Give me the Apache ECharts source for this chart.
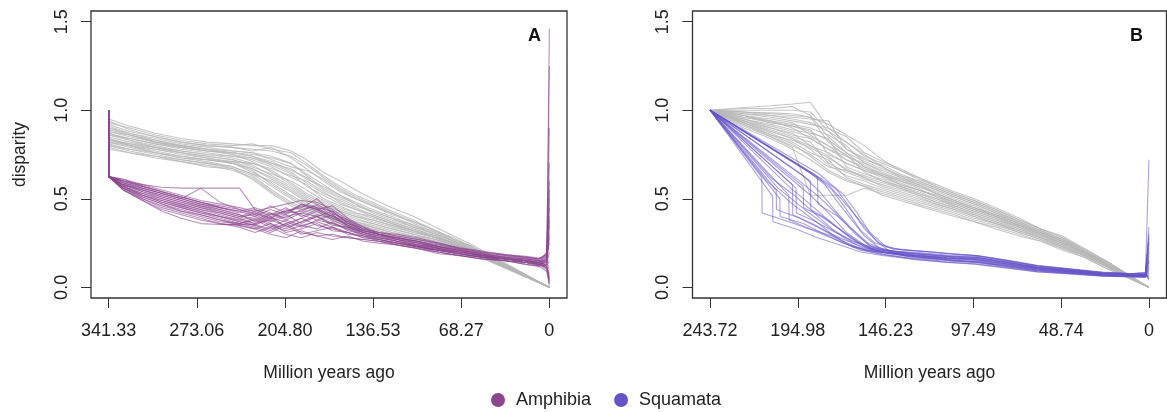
<!DOCTYPE html>
<html>
<head>
<meta charset="utf-8">
<script src="https://cdn.jsdelivr.net/npm/echarts@6/dist/echarts.min.js"></script>
<style>
html,body{margin:0;padding:0;background:#fff;}
#chart{width:1167px;height:412px;}
</style>
</head>
<body>
<div id="chart"></div>
<script>
// ---------- tick labels ----------
const xTicksA = [341.33, 273.06, 204.80, 136.53, 68.27, 0];
const xLabelsA = ['341.33', '273.06', '204.80', '136.53', '68.27', '0'];
const xTicksB = [243.72, 194.98, 146.23, 97.49, 48.74, 0];
const xLabelsB = ['243.72', '194.98', '146.23', '97.49', '48.74', '0'];
const yTicks = [0, 0.5, 1.0, 1.5];
const yLabels = ['0.0', '0.5', '1.0', '1.5'];
const legendNames = ['Amphibia', 'Squamata'];

// ---------- Panel A : gray (null) disparity-through-time curves ----------
const grayATimes = [341.33, 325, 305, 285, 265, 245, 230, 215, 200, 188, 175, 162, 150, 137, 122, 105, 88, 74, 60, 0];
const grayA = [
  [0.95,0.91,0.87,0.84,0.82,0.81,0.80,0.80,0.77,0.72,0.65,0.60,0.55,0.50,0.45,0.40,0.34,0.29,0.24,0],
  [0.93,0.90,0.86,0.83,0.81,0.80,0.81,0.78,0.76,0.70,0.63,0.57,0.52,0.48,0.43,0.38,0.32,0.28,0.23,0],
  [0.92,0.88,0.85,0.82,0.80,0.79,0.77,0.79,0.73,0.67,0.60,0.54,0.50,0.46,0.42,0.36,0.31,0.27,0.23,0],
  [0.90,0.87,0.84,0.81,0.79,0.77,0.76,0.74,0.70,0.64,0.58,0.52,0.48,0.44,0.40,0.35,0.31,0.26,0.22,0],
  [0.89,0.86,0.82,0.80,0.78,0.76,0.74,0.71,0.66,0.62,0.55,0.50,0.46,0.43,0.39,0.34,0.30,0.26,0.22,0],
  [0.88,0.85,0.82,0.79,0.77,0.75,0.73,0.69,0.64,0.57,0.52,0.47,0.44,0.41,0.37,0.33,0.29,0.25,0.22,0],
  [0.87,0.84,0.81,0.78,0.76,0.74,0.72,0.68,0.62,0.58,0.50,0.46,0.42,0.40,0.36,0.32,0.29,0.25,0.21,0],
  [0.86,0.83,0.80,0.77,0.75,0.73,0.70,0.66,0.59,0.53,0.48,0.44,0.41,0.38,0.35,0.32,0.28,0.25,0.21,0],
  [0.85,0.82,0.79,0.76,0.74,0.72,0.69,0.63,0.57,0.51,0.46,0.43,0.40,0.37,0.34,0.31,0.28,0.24,0.21,0],
  [0.84,0.81,0.78,0.75,0.73,0.71,0.67,0.61,0.55,0.49,0.45,0.41,0.38,0.36,0.33,0.30,0.27,0.24,0.21,0],
  [0.83,0.80,0.77,0.74,0.72,0.70,0.65,0.59,0.52,0.47,0.43,0.40,0.37,0.35,0.32,0.29,0.27,0.24,0.20,0],
  [0.82,0.79,0.76,0.73,0.71,0.68,0.64,0.57,0.50,0.45,0.41,0.38,0.36,0.34,0.31,0.29,0.26,0.23,0.20,0],
  [0.81,0.78,0.75,0.72,0.70,0.67,0.63,0.55,0.48,0.44,0.40,0.37,0.35,0.33,0.30,0.28,0.26,0.23,0.20,0],
  [0.80,0.77,0.74,0.71,0.69,0.66,0.62,0.54,0.47,0.43,0.39,0.36,0.33,0.31,0.29,0.27,0.25,0.22,0.19,0],
  [0.79,0.76,0.73,0.71,0.68,0.67,0.61,0.53,0.46,0.42,0.38,0.35,0.32,0.30,0.28,0.26,0.24,0.22,0.19,0],
  [0.78,0.76,0.74,0.72,0.70,0.68,0.64,0.60,0.54,0.48,0.42,0.39,0.36,0.33,0.30,0.28,0.25,0.22,0.20,0],
  [0.84,0.80,0.76,0.73,0.72,0.71,0.70,0.67,0.63,0.60,0.54,0.48,0.44,0.40,0.36,0.32,0.28,0.25,0.21,0],
  [0.91,0.87,0.83,0.80,0.78,0.77,0.76,0.72,0.68,0.66,0.61,0.55,0.50,0.46,0.41,0.37,0.32,0.27,0.23,0],
  [0.86,0.84,0.81,0.79,0.77,0.76,0.75,0.73,0.70,0.63,0.56,0.51,0.47,0.43,0.39,0.35,0.30,0.26,0.22,0],
  [0.83,0.81,0.79,0.77,0.75,0.74,0.73,0.70,0.65,0.59,0.53,0.49,0.45,0.41,0.37,0.33,0.29,0.25,0.21,0],
  [0.87,0.83,0.79,0.76,0.74,0.72,0.68,0.64,0.60,0.55,0.49,0.45,0.42,0.39,0.36,0.32,0.28,0.25,0.21,0],
  [0.80,0.78,0.76,0.74,0.72,0.70,0.67,0.62,0.56,0.50,0.45,0.42,0.39,0.36,0.33,0.30,0.27,0.24,0.20,0],
  [0.94,0.89,0.85,0.82,0.80,0.79,0.78,0.77,0.74,0.69,0.62,0.56,0.51,0.47,0.42,0.37,0.32,0.27,0.23,0],
  [0.88,0.86,0.83,0.80,0.78,0.75,0.71,0.65,0.58,0.52,0.47,0.43,0.40,0.38,0.35,0.31,0.28,0.24,0.21,0],
  [0.82,0.80,0.78,0.76,0.73,0.70,0.66,0.58,0.51,0.46,0.42,0.39,0.37,0.34,0.31,0.28,0.26,0.23,0.20,0],
  [0.90,0.86,0.82,0.79,0.77,0.76,0.74,0.70,0.67,0.61,0.57,0.52,0.47,0.42,0.38,0.34,0.30,0.26,0.22,0]
];

// ---------- Panel A : Amphibia curves ----------
const amphTimes = [341.33, 341.32, 330, 315, 300, 285, 270, 255, 240, 228, 216, 204, 192, 180, 168, 156, 144, 132, 118, 102, 86, 70, 52, 34, 18, 8, 2, 0];
const amphibia = [
  [1.0,0.625,0.60,0.58,0.565,0.56,0.56,0.56,0.56,0.44,0.41,0.43,0.46,0.44,0.40,0.35,0.32,0.30,0.28,0.26,0.23,0.21,0.19,0.17,0.16,0.15,0.14,1.46],
  [1.0,0.625,0.55,0.49,0.43,0.39,0.36,0.355,0.355,0.355,0.33,0.36,0.31,0.29,0.30,0.28,0.27,0.26,0.25,0.23,0.21,0.20,0.18,0.16,0.15,0.13,0.11,0.03],
  [1.0,0.625,0.61,0.58,0.55,0.52,0.49,0.47,0.45,0.43,0.45,0.47,0.49,0.48,0.44,0.38,0.33,0.31,0.30,0.28,0.25,0.22,0.20,0.185,0.17,0.16,0.17,1.25],
  [1.0,0.625,0.60,0.57,0.54,0.51,0.48,0.45,0.42,0.44,0.40,0.43,0.45,0.50,0.42,0.37,0.32,0.30,0.28,0.26,0.23,0.21,0.19,0.17,0.16,0.15,0.14,0.60],
  [1.0,0.625,0.59,0.56,0.53,0.50,0.47,0.44,0.41,0.38,0.42,0.39,0.44,0.46,0.41,0.35,0.31,0.29,0.28,0.25,0.23,0.20,0.18,0.17,0.15,0.14,0.13,0.35],
  [1.0,0.625,0.59,0.55,0.52,0.49,0.46,0.43,0.40,0.41,0.37,0.40,0.42,0.40,0.43,0.36,0.32,0.30,0.27,0.25,0.22,0.20,0.18,0.16,0.15,0.14,0.18,0.25],
  [1.0,0.625,0.58,0.54,0.51,0.48,0.45,0.42,0.39,0.36,0.38,0.35,0.39,0.43,0.38,0.34,0.30,0.28,0.27,0.24,0.22,0.20,0.18,0.16,0.15,0.13,0.12,0.05],
  [1.0,0.625,0.58,0.54,0.50,0.47,0.44,0.41,0.38,0.40,0.36,0.33,0.37,0.41,0.39,0.35,0.31,0.29,0.26,0.24,0.21,0.19,0.17,0.16,0.15,0.14,0.20,0.40],
  [1.0,0.625,0.57,0.53,0.49,0.46,0.43,0.40,0.37,0.35,0.39,0.37,0.34,0.38,0.36,0.33,0.29,0.28,0.26,0.23,0.21,0.19,0.17,0.16,0.14,0.13,0.10,0.02],
  [1.0,0.625,0.57,0.52,0.48,0.45,0.42,0.39,0.36,0.38,0.34,0.38,0.35,0.33,0.37,0.32,0.30,0.27,0.25,0.23,0.21,0.19,0.17,0.15,0.14,0.13,0.15,0.30],
  [1.0,0.625,0.56,0.51,0.47,0.44,0.41,0.38,0.35,0.33,0.36,0.31,0.33,0.36,0.32,0.31,0.28,0.27,0.25,0.23,0.20,0.18,0.17,0.15,0.14,0.13,0.11,0.08],
  [1.0,0.625,0.56,0.50,0.46,0.43,0.40,0.37,0.36,0.34,0.31,0.35,0.30,0.32,0.34,0.30,0.29,0.26,0.24,0.22,0.20,0.18,0.16,0.15,0.14,0.12,0.16,0.45],
  [1.0,0.625,0.55,0.50,0.45,0.42,0.39,0.36,0.34,0.31,0.34,0.30,0.28,0.31,0.29,0.28,0.27,0.26,0.24,0.22,0.20,0.18,0.16,0.15,0.13,0.12,0.09,0.01],
  [1.0,0.625,0.55,0.49,0.44,0.41,0.38,0.36,0.35,0.33,0.30,0.28,0.32,0.29,0.27,0.29,0.26,0.25,0.24,0.22,0.19,0.18,0.16,0.15,0.13,0.12,0.13,0.20],
  [1.0,0.625,0.60,0.56,0.53,0.50,0.56,0.48,0.44,0.42,0.39,0.42,0.47,0.45,0.40,0.37,0.33,0.31,0.29,0.27,0.245,0.22,0.20,0.18,0.17,0.16,0.19,0.90],
  [1.0,0.625,0.58,0.55,0.52,0.49,0.46,0.44,0.41,0.37,0.41,0.45,0.40,0.44,0.46,0.39,0.34,0.30,0.27,0.25,0.22,0.20,0.18,0.16,0.15,0.14,0.12,0.15],
  [1.0,0.625,0.57,0.53,0.50,0.47,0.44,0.42,0.39,0.42,0.38,0.41,0.36,0.40,0.35,0.34,0.31,0.28,0.26,0.24,0.22,0.19,0.17,0.16,0.15,0.13,0.17,0.55],
  [1.0,0.625,0.56,0.52,0.49,0.46,0.43,0.40,0.37,0.35,0.32,0.36,0.39,0.35,0.33,0.31,0.28,0.27,0.25,0.23,0.21,0.19,0.17,0.16,0.14,0.13,0.14,0.10],
  [1.0,0.625,0.59,0.56,0.53,0.50,0.47,0.45,0.43,0.40,0.44,0.41,0.47,0.44,0.39,0.36,0.33,0.30,0.28,0.26,0.24,0.215,0.195,0.18,0.17,0.16,0.19,0.70],
  [1.0,0.625,0.58,0.55,0.51,0.48,0.45,0.43,0.40,0.43,0.39,0.44,0.41,0.38,0.41,0.34,0.31,0.29,0.27,0.25,0.23,0.205,0.185,0.17,0.16,0.15,0.12,0.06],
  [1.0,0.625,0.57,0.52,0.48,0.45,0.42,0.40,0.38,0.36,0.40,0.34,0.37,0.40,0.36,0.33,0.30,0.28,0.26,0.24,0.22,0.20,0.18,0.165,0.155,0.145,0.16,0.28],
  [1.0,0.625,0.61,0.57,0.54,0.51,0.48,0.46,0.44,0.41,0.46,0.42,0.43,0.47,0.42,0.38,0.34,0.31,0.29,0.27,0.25,0.225,0.205,0.185,0.175,0.165,0.18,0.50],
  [1.0,0.625,0.56,0.51,0.47,0.43,0.41,0.38,0.36,0.39,0.35,0.32,0.35,0.37,0.34,0.31,0.29,0.27,0.25,0.23,0.21,0.19,0.175,0.16,0.15,0.14,0.11,0.04],
  [1.0,0.625,0.60,0.57,0.54,0.51,0.48,0.45,0.43,0.45,0.42,0.38,0.42,0.45,0.43,0.36,0.32,0.30,0.28,0.26,0.23,0.21,0.19,0.175,0.165,0.155,0.15,0.38]
];

// ---------- Panel B : gray (null) curves ----------
const grayBTimes = [243.72, 225, 210, 198, 188, 178, 168, 158, 148, 138, 128, 118, 108, 97, 85, 72, 60, 48, 36, 24, 0];
const grayB = [
  [1.0,1.015,1.025,1.035,1.045,0.90,0.82,0.74,0.70,0.66,0.62,0.57,0.53,0.49,0.44,0.38,0.33,0.28,0.22,0.15,0],
  [1.0,1.0,1.0,1.0,0.99,0.88,0.78,0.72,0.69,0.64,0.60,0.56,0.52,0.48,0.43,0.37,0.32,0.27,0.21,0.15,0],
  [1.0,0.99,0.985,0.98,0.96,0.82,0.74,0.70,0.66,0.62,0.59,0.55,0.51,0.47,0.42,0.36,0.31,0.27,0.21,0.14,0],
  [1.0,0.98,0.97,0.96,0.95,0.94,0.78,0.73,0.68,0.63,0.60,0.56,0.52,0.48,0.43,0.37,0.32,0.27,0.21,0.14,0],
  [1.0,0.97,0.95,0.93,0.86,0.80,0.72,0.67,0.63,0.60,0.57,0.53,0.49,0.45,0.40,0.35,0.30,0.25,0.20,0.13,0],
  [1.0,0.96,0.93,0.91,0.89,0.75,0.70,0.66,0.62,0.58,0.55,0.52,0.48,0.44,0.40,0.35,0.30,0.25,0.20,0.13,0],
  [1.0,0.95,0.92,0.89,0.87,0.84,0.68,0.64,0.61,0.57,0.54,0.50,0.47,0.43,0.39,0.34,0.29,0.25,0.19,0.13,0],
  [1.0,0.95,0.90,0.87,0.80,0.74,0.66,0.62,0.59,0.56,0.53,0.49,0.46,0.42,0.38,0.33,0.29,0.24,0.19,0.13,0],
  [1.0,0.94,0.89,0.85,0.82,0.70,0.65,0.61,0.58,0.55,0.52,0.48,0.45,0.41,0.37,0.33,0.28,0.24,0.19,0.12,0],
  [1.0,0.93,0.88,0.84,0.78,0.69,0.63,0.60,0.56,0.53,0.50,0.47,0.44,0.40,0.36,0.32,0.28,0.23,0.18,0.12,0],
  [1.0,0.93,0.87,0.82,0.76,0.72,0.62,0.58,0.55,0.52,0.49,0.46,0.43,0.39,0.36,0.31,0.27,0.23,0.18,0.12,0],
  [1.0,0.92,0.86,0.81,0.74,0.66,0.61,0.57,0.54,0.51,0.48,0.45,0.42,0.38,0.35,0.31,0.27,0.22,0.18,0.12,0],
  [1.0,0.91,0.85,0.79,0.52,0.52,0.52,0.56,0.53,0.50,0.47,0.44,0.41,0.37,0.34,0.30,0.26,0.22,0.17,0.11,0],
  [1.0,0.90,0.84,0.78,0.72,0.65,0.60,0.57,0.52,0.49,0.46,0.43,0.40,0.37,0.33,0.29,0.26,0.21,0.17,0.11,0],
  [1.0,0.92,0.85,0.80,0.75,0.68,0.66,0.63,0.60,0.57,0.53,0.50,0.46,0.42,0.38,0.34,0.30,0.25,0.20,0.13,0],
  [1.0,0.98,0.96,0.94,0.92,0.90,0.85,0.76,0.71,0.67,0.62,0.58,0.54,0.50,0.45,0.39,0.33,0.29,0.22,0.15,0],
  [1.0,0.97,0.94,0.92,0.90,0.86,0.80,0.70,0.65,0.61,0.58,0.54,0.50,0.46,0.41,0.36,0.31,0.26,0.20,0.14,0],
  [1.0,0.94,0.90,0.86,0.84,0.78,0.72,0.68,0.64,0.60,0.56,0.51,0.47,0.43,0.39,0.34,0.29,0.25,0.19,0.13,0],
  [1.0,0.99,0.98,0.97,0.96,0.92,0.86,0.80,0.72,0.66,0.61,0.57,0.53,0.49,0.44,0.38,0.33,0.28,0.21,0.14,0],
  [1.0,0.96,0.94,0.90,0.84,0.78,0.74,0.69,0.64,0.61,0.57,0.53,0.49,0.45,0.41,0.36,0.31,0.26,0.20,0.13,0],
  [1.0,0.95,0.91,0.88,0.85,0.80,0.75,0.65,0.60,0.56,0.52,0.48,0.45,0.41,0.37,0.32,0.28,0.24,0.18,0.12,0],
  [1.0,1.01,1.01,1.02,0.97,0.85,0.76,0.71,0.67,0.63,0.59,0.55,0.51,0.47,0.42,0.37,0.32,0.27,0.21,0.14,0],
  [1.0,0.93,0.86,0.83,0.79,0.73,0.67,0.62,0.57,0.54,0.51,0.47,0.44,0.40,0.36,0.32,0.28,0.23,0.18,0.12,0],
  [1.0,0.97,0.93,0.91,0.88,0.83,0.76,0.68,0.63,0.59,0.55,0.51,0.48,0.44,0.40,0.35,0.30,0.25,0.19,0.13,0],
  [1.0,0.99,0.97,0.95,0.93,0.88,0.82,0.75,0.68,0.62,0.58,0.53,0.49,0.45,0.41,0.36,0.31,0.26,0.20,0.14,0],
  [1.0,0.94,0.88,0.84,0.80,0.76,0.70,0.66,0.63,0.58,0.55,0.52,0.48,0.44,0.40,0.35,0.31,0.26,0.20,0.13,0]
];

// ---------- Panel B : Squamata curves ([time, disparity]) ----------
const squamata = [
  [[243.72,1],[209,0.515],[208.8,0.37],[196,0.33],[184,0.28],[172,0.24],[160,0.2],[148,0.18],[130,0.158],[112,0.142],[97,0.133],[80,0.112],[62,0.088],[44,0.077],[26,0.064],[10,0.06],[2,0.058],[0,0.34]],
  [[243.72,1],[205,0.50],[204.8,0.40],[192,0.36],[180,0.30],[170,0.25],[158,0.21],[146,0.195],[130,0.18],[112,0.165],[97,0.158],[80,0.133],[62,0.105],[44,0.09],[26,0.073],[10,0.068],[2,0.066],[0,0.05]],
  [[243.72,1],[200,0.52],[199.8,0.38],[188,0.33],[176,0.29],[165,0.23],[152,0.2],[140,0.19],[124,0.175],[108,0.16],[95,0.162],[80,0.14],[62,0.11],[44,0.094],[26,0.077],[10,0.071],[2,0.07],[0,0.72]],
  [[243.72,1],[196,0.56],[195.8,0.42],[185,0.37],[174,0.31],[164,0.26],[154,0.22],[142,0.205],[126,0.195],[110,0.18],[96,0.175],[80,0.15],[62,0.12],[44,0.102],[26,0.083],[10,0.076],[2,0.079],[0,0.15]],
  [[243.72,1],[192,0.57],[191.8,0.45],[182,0.40],[172,0.33],[162,0.26],[152,0.21],[140,0.185],[124,0.168],[108,0.152],[96,0.145],[80,0.122],[62,0.097],[44,0.083],[26,0.068],[10,0.064],[2,0.062],[0,0.22]],
  [[243.72,1],[188,0.60],[187.8,0.44],[178,0.38],[168,0.30],[158,0.23],[148,0.2],[136,0.18],[120,0.165],[104,0.15],[94,0.146],[80,0.128],[62,0.103],[44,0.088],[26,0.072],[10,0.067],[2,0.066],[0,0.10]],
  [[243.72,1],[184,0.62],[183.8,0.47],[174,0.41],[165,0.33],[156,0.24],[146,0.21],[134,0.195],[118,0.18],[102,0.168],[94,0.166],[80,0.142],[62,0.113],[44,0.096],[26,0.078],[10,0.072],[2,0.072],[0,0.28]],
  [[243.72,1],[181,0.607],[170,0.53],[162,0.42],[155,0.31],[146,0.23],[136,0.21],[120,0.2],[104,0.185],[95,0.178],[80,0.153],[62,0.122],[44,0.103],[26,0.084],[10,0.077],[2,0.08],[0,0.04]],
  [[243.72,1],[178,0.58],[170,0.49],[160,0.37],[152,0.27],[144,0.2],[134,0.175],[118,0.16],[102,0.145],[94,0.14],[80,0.118],[62,0.093],[44,0.08],[26,0.066],[10,0.062],[2,0.06],[0,0.18]],
  [[243.72,1],[200,0.57],[186,0.45],[176,0.36],[166,0.28],[156,0.22],[144,0.195],[128,0.182],[112,0.167],[96,0.158],[80,0.135],[62,0.107],[44,0.091],[26,0.074],[10,0.069],[2,0.067],[0,0.30]],
  [[243.72,1],[206,0.56],[190,0.43],[178,0.34],[168,0.27],[158,0.22],[146,0.2],[130,0.19],[114,0.175],[97,0.168],[80,0.143],[62,0.113],[44,0.097],[26,0.079],[10,0.073],[2,0.073],[0,0.06]],
  [[243.72,1],[194,0.60],[182,0.50],[172,0.40],[163,0.30],[154,0.23],[144,0.2],[128,0.172],[112,0.156],[96,0.146],[80,0.124],[62,0.099],[44,0.085],[26,0.069],[10,0.065],[2,0.063],[0,0.12]],
  [[243.72,1],[212,0.60],[198,0.47],[186,0.38],[176,0.30],[166,0.24],[156,0.21],[144,0.19],[128,0.178],[112,0.163],[96,0.152],[80,0.13],[62,0.104],[44,0.089],[26,0.072],[10,0.067],[2,0.065],[0,0.08]],
  [[243.72,1],[186,0.64],[176,0.55],[168,0.44],[160,0.32],[152,0.25],[142,0.215],[126,0.205],[110,0.19],[95,0.18],[80,0.155],[62,0.124],[44,0.105],[26,0.086],[10,0.078],[2,0.082],[0,0.25]],
  [[243.72,1],[215,0.62],[214.8,0.42],[200,0.37],[186,0.32],[172,0.26],[160,0.21],[148,0.185],[132,0.165],[116,0.15],[98,0.14],[80,0.118],[62,0.092],[44,0.08],[26,0.066],[10,0.061],[2,0.059],[0,0.16]],
  [[243.72,1],[190,0.66],[180,0.58],[172,0.47],[165,0.38],[158,0.29],[150,0.225],[140,0.2],[124,0.188],[108,0.173],[96,0.17],[80,0.146],[62,0.116],[44,0.099],[26,0.08],[10,0.074],[2,0.075],[0,0.05]],
  [[243.72,1],[202,0.64],[188,0.52],[178,0.42],[168,0.31],[158,0.24],[148,0.21],[130,0.193],[112,0.178],[97,0.17],[80,0.144],[62,0.114],[44,0.097],[26,0.078],[10,0.072],[2,0.071],[0,0.20]],
  [[243.72,1],[210,0.62],[197,0.52],[186,0.42],[176,0.33],[165,0.26],[152,0.215],[130,0.18],[112,0.165],[97,0.156],[80,0.133],[62,0.105],[44,0.09],[26,0.073],[10,0.068],[2,0.066],[0,0.11]],
  [[243.72,1],[198,0.58],[197.8,0.41],[187,0.36],[176,0.30],[165,0.25],[152,0.205],[130,0.168],[112,0.152],[97,0.143],[80,0.122],[62,0.097],[44,0.083],[26,0.068],[10,0.064],[2,0.062],[0,0.07]],
  [[243.72,1],[183,0.64],[174,0.56],[166,0.45],[158,0.33],[150,0.25],[142,0.22],[130,0.207],[112,0.19],[97,0.18],[80,0.154],[62,0.122],[44,0.103],[26,0.084],[10,0.077],[2,0.085],[0,0.26]],
  [[243.72,1],[207,0.55],[206.8,0.44],[194,0.39],[182,0.33],[170,0.26],[158,0.21],[146,0.185],[130,0.157],[112,0.141],[97,0.131],[80,0.11],[62,0.087],[44,0.076],[26,0.063],[10,0.059],[2,0.056],[0,0.09]],
  [[243.72,1],[192,0.63],[182,0.53],[174,0.43],[166,0.34],[156,0.25],[146,0.21],[130,0.185],[112,0.17],[97,0.163],[80,0.138],[62,0.109],[44,0.093],[26,0.076],[10,0.07],[2,0.069],[0,0.14]]
];

// ---------- styling ----------
const FONT = '"Liberation Sans", Arial, Helvetica, sans-serif';
const GRAY = '#b8b8b8';
const AMPH = '#8c4690';
const SQUA = '#6653c9';
const INK = '#222';

const chart = echarts.init(document.getElementById('chart'), null, {renderer: 'canvas'});

function lineSeries(name, xi, data, color, opacity, z) {
  return {
    type: 'line', name: name, xAxisIndex: xi, yAxisIndex: xi,
    data: data, symbol: 'none', showSymbol: false, silent: true,
    clip: true, animation: false, z: z,
    itemStyle: {color: color},
    lineStyle: {color: color, width: 1.1, opacity: opacity}
  };
}

const series = [];
grayA.forEach(v => series.push(lineSeries('nullA', 0, grayATimes.map((t, i) => [t, v[i]]), GRAY, 0.8, 1)));
amphibia.forEach(v => series.push(lineSeries(legendNames[0], 0, amphTimes.map((t, i) => [t, v[i]]), AMPH, 0.6, 2)));
grayB.forEach(v => series.push(lineSeries('nullB', 1, grayBTimes.map((t, i) => [t, v[i]]), GRAY, 0.8, 1)));
squamata.forEach(p => series.push(lineSeries(legendNames[1], 1, p, SQUA, 0.55, 2)));

function xAxis(gi, ticks, labels, maxT) {
  const pad = maxT * 0.04;
  return {
    type: 'value', gridIndex: gi, inverse: true, min: -pad, max: maxT + pad, position: 'bottom',
    name: 'Million years ago', nameLocation: 'middle', nameGap: 66,
    nameTextStyle: {fontSize: 17.5, color: INK, fontFamily: FONT},
    axisLine: {show: false, onZero: false},
    splitLine: {show: false},
    axisTick: {show: true, inside: false, length: 10, customValues: ticks, lineStyle: {color: '#333', width: 1}},
    axisLabel: {show: true, customValues: ticks, margin: 24, fontSize: 18, color: INK, fontFamily: FONT,
      formatter: v => { const i = ticks.findIndex(t => Math.abs(t - v) < 1e-6); return i >= 0 ? labels[i] : ''; }}
  };
}
function yAxis(gi, withName) {
  return {
    type: 'value', gridIndex: gi, min: -0.06, max: 1.56, position: 'left',
    name: withName ? 'disparity' : '', nameLocation: 'middle', nameGap: 62, nameRotate: 90,
    nameTextStyle: {fontSize: 17.5, color: INK, fontFamily: FONT},
    axisLine: {show: false, onZero: false},
    splitLine: {show: false},
    axisTick: {show: true, inside: false, length: 10, customValues: yTicks, lineStyle: {color: '#333', width: 1}},
    axisLabel: {show: true, customValues: yTicks, rotate: 90, margin: 20, fontSize: 18, color: INK, fontFamily: FONT,
      formatter: v => { const i = yTicks.findIndex(t => Math.abs(t - v) < 1e-6); return i >= 0 ? yLabels[i] : ''; }}
  };
}

chart.setOption({
  animation: false,
  backgroundColor: '#ffffff',
  textStyle: {fontFamily: FONT},
  title: [
    {text: 'A', left: 528, top: 27, padding: 0, textStyle: {fontSize: 18, fontWeight: 'bold', color: '#111', fontFamily: FONT}},
    {text: 'B', left: 1130, top: 27, padding: 0, textStyle: {fontSize: 18, fontWeight: 'bold', color: '#111', fontFamily: FONT}}
  ],
  grid: [
    {left: 91, top: 11, width: 476, height: 287, show: true, borderColor: '#333', borderWidth: 1.3, backgroundColor: 'transparent'},
    {left: 692.5, top: 11, width: 474, height: 287, show: true, borderColor: '#333', borderWidth: 1.3, backgroundColor: 'transparent'}
  ],
  xAxis: [xAxis(0, xTicksA, xLabelsA, 341.33), xAxis(1, xTicksB, xLabelsB, 243.72)],
  yAxis: [yAxis(0, true), yAxis(1, false)],
  legend: {
    show: true, left: 486, top: 386, orient: 'horizontal',
    itemWidth: 26, itemHeight: 14, itemGap: 23, selectedMode: false,
    textStyle: {fontSize: 18, color: INK, fontFamily: FONT},
    data: [
      {name: legendNames[0], icon: 'circle', itemStyle: {color: AMPH, opacity: 1}},
      {name: legendNames[1], icon: 'circle', itemStyle: {color: SQUA, opacity: 1}}
    ]
  },
  series: series
});
</script>
</body>
</html>
